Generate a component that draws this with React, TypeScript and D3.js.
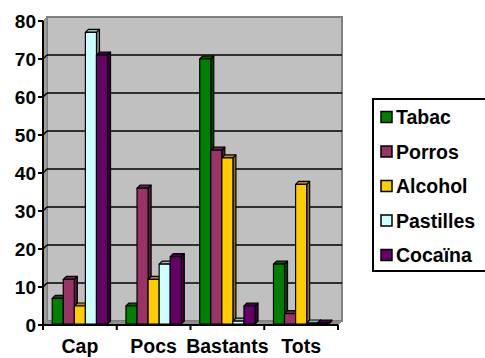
import React from "react";
import * as d3 from "d3";

const categories = ["Cap", "Pocs", "Bastants", "Tots"];
const seriesNames = ["Tabac", "Porros", "Alcohol", "Pastilles", "Cocaïna"];
const seriesColors = ["#008000", "#993366", "#FFCC00", "#CCFFFF", "#660066"];
const tabac = [7, 5, 70, 16];
const porros = [12, 36, 46, 3];
const alcohol = [5, 12, 44, 37];
const pastilles = [77, 16, 1, 0];
const cocaina = [71, 18, 5, 0];
const yTicks = [0, 10, 20, 30, 40, 50, 60, 70, 80];

const seriesValues = [tabac, porros, alcohol, pastilles, cocaina];

export default function App() {
  const W = 485, H = 358;
  const left = 43, right = 338, bottom = 325, top = 21;
  const dx = 4, dy = 4;
  const bdx = 3, bdy = 3;
  const y = d3.scaleLinear().domain([0, 80]).range([bottom, top]);
  const x = d3.scaleBand<string>().domain(categories).range([left, right]).padding(0);
  const bw = x.bandwidth() * 0.15;
  const font = "Arial, 'Liberation Sans', sans-serif";

  const bars: React.ReactNode[] = [];
  categories.forEach((c, ci) => {
    const cx = (x(c) as number) + x.bandwidth() / 2;
    seriesValues.forEach((vals, si) => {
      const v = vals[ci];
      const x0 = cx - 2.5 * bw + si * bw;
      const x1 = x0 + bw;
      const yb = y(0) - 1;
      const yt = Math.min(y(v), yb - 1);
      const col = d3.color(seriesColors[si])!;
      const side = col.darker(1.6).formatHex();
      const topc = col.darker(0.9).formatHex();
      bars.push(
        <g key={`${ci}-${si}`} stroke="#000" strokeWidth={1.2} strokeLinejoin="round">
          <path d={`M${x1},${yb}L${x1 + bdx},${yb - bdy}L${x1 + bdx},${yt - bdy}L${x1},${yt}Z`} fill={side} />
          <path d={`M${x0},${yt}L${x0 + bdx},${yt - bdy}L${x1 + bdx},${yt - bdy}L${x1},${yt}Z`} fill={topc} />
          <rect x={x0} y={yt} width={bw} height={Math.max(0, yb - yt)} fill={seriesColors[si]} />
        </g>
      );
    });
  });

  return (
    <svg width={W} height={H} style={{ position: "absolute", left: 0, top: 0, background: "#fff" }}>
      {/* back wall */}
      <rect x={left + dx} y={y(80) - dy} width={right - left} height={y(0) - y(80)} fill="#C0C0C0" stroke="#808080" strokeWidth={2} />
      {/* side wall */}
      <path d={`M${left},${y(0)}L${left + dx},${y(0) - dy}L${left + dx},${y(80) - dy}L${left},${y(80)}Z`} fill="#A0A0A0" stroke="#808080" strokeWidth={1} />
      {/* floor */}
      <path d={`M${left},${y(0)}L${left + dx},${y(0) - dy}L${right + dx},${y(0) - dy}L${right},${y(0)}Z`} fill="#909090" stroke="#808080" strokeWidth={1} />
      {/* gridlines */}
      {yTicks.filter(t => t > 0 && t < 80).map(t => (
        <g key={t} stroke="#000" strokeWidth={1.5}>
          <line x1={left + dx} x2={right + dx} y1={y(t) - dy} y2={y(t) - dy} />
          <line x1={left} x2={left + dx} y1={y(t)} y2={y(t) - dy} />
        </g>
      ))}
      {bars}
      {/* axes */}
      <line x1={left} x2={left} y1={y(80)} y2={y(0)} stroke="#000" strokeWidth={2} />
      <line x1={left} x2={right} y1={y(0)} y2={y(0)} stroke="#000" strokeWidth={2} />
      {yTicks.map(t => (
        <g key={t}>
          <line x1={left - 5} x2={left} y1={y(t)} y2={y(t)} stroke="#000" strokeWidth={2} />
          <text x={left - 7} y={y(t)} dy="0.36em" textAnchor="end" fontFamily={font} fontWeight="bold" fontSize={19}>{t}</text>
        </g>
      ))}
      {[...categories.map(c => x(c) as number), right].map((px, i) => (
        <line key={i} x1={px} x2={px} y1={y(0)} y2={y(0) + 5} stroke="#000" strokeWidth={2} />
      ))}
      {categories.map(c => (
        <text key={c} x={(x(c) as number) + x.bandwidth() / 2} y={353} textAnchor="middle" fontFamily={font} fontWeight="bold" fontSize={19.5}>{c}</text>
      ))}
      {/* legend */}
      <rect x={373} y={99} width={130} height={172} fill="#fff" stroke="#000" strokeWidth={2} />
      {seriesNames.map((n, i) => {
        const cy = 117 + i * 34.5;
        return (
          <g key={n}>
            <rect x={381} y={cy - 5.5} width={11} height={11} fill={seriesColors[i]} stroke="#000" strokeWidth={1.5} />
            <text x={396} y={cy} dy="0.36em" fontFamily={font} fontWeight="bold" fontSize={19.5}>{n}</text>
          </g>
        );
      })}
    </svg>
  );
}
